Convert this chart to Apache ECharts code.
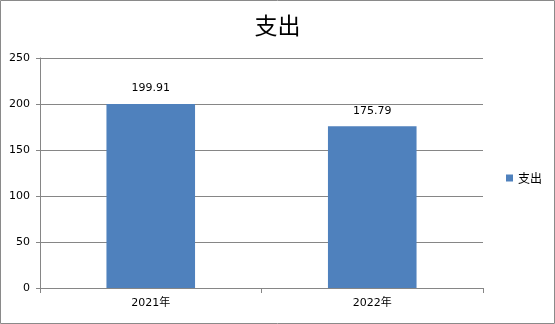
<!DOCTYPE html>
<html>
<head>
<meta charset="utf-8">
<script src="https://cdn.jsdelivr.net/npm/echarts@6/dist/echarts.min.js"></script>
<style>
html,body{margin:0;padding:0;background:#fff;}
#c{width:555px;height:324px;}
</style>
</head>
<body>
<div id="c"></div>
<script>
var titleText = "支出";
var categories = ["2021年", "2022年"];
var seriesName = "支出";
var values = [199.91, 175.79];
var yTicks = [0, 50, 100, 150, 200, 250];

var font = "'DejaVu Sans', 'Noto Sans CJK SC', sans-serif";
var chart = echarts.init(document.getElementById('c'), null, {renderer: 'canvas'});
chart.setOption({
  animation: false,
  backgroundColor: '#ffffff',
  title: {
    text: titleText,
    left: 'center',
    top: 9,
    textStyle: {fontSize: 23, fontWeight: 'normal', color: '#000', fontFamily: "'Noto Sans CJK SC', sans-serif"}
  },
  legend: {
    orient: 'vertical',
    left: 501,
    top: 167,
    icon: 'rect',
    itemWidth: 7,
    itemHeight: 7,
    itemGap: 5,
    textStyle: {fontSize: 12, color: '#000', fontFamily: "'Noto Sans CJK SC', sans-serif"},
    data: [seriesName]
  },
  graphic: [{
    type: 'rect',
    shape: {x: 0.5, y: 0.5, width: 554, height: 323},
    style: {fill: 'none', stroke: '#8a8a8a', lineWidth: 1},
    silent: true
  }],
  grid: {left: 40, right: 72, top: 58, bottom: 36, containLabel: false},
  xAxis: {
    type: 'category',
    data: categories,
    axisLine: {lineStyle: {color: '#868686', width: 1}},
    axisTick: {show: true, length: 5, lineStyle: {color: '#868686'}},
    axisLabel: {fontSize: 11, color: '#000', margin: 10, fontFamily: font},
    splitLine: {show: false}
  },
  yAxis: {
    type: 'value',
    min: yTicks[0],
    max: yTicks[yTicks.length - 1],
    interval: 50,
    axisLine: {show: true, lineStyle: {color: '#868686', width: 1}},
    axisTick: {show: true, length: 4, lineStyle: {color: '#868686'}},
    axisLabel: {fontSize: 11, color: '#000', margin: 10, fontFamily: font},
    splitLine: {show: true, lineStyle: {color: '#868686', width: 1}}
  },
  series: [{
    name: seriesName,
    type: 'bar',
    data: values,
    barWidth: '40%',
    itemStyle: {color: '#4F81BD'},
    label: {
      show: true,
      position: 'top',
      distance: 10,
      fontSize: 11,
      color: '#000',
      fontFamily: font,
      formatter: function (p) { return p.value.toFixed(2); }
    }
  }]
});
</script>
</body>
</html>
